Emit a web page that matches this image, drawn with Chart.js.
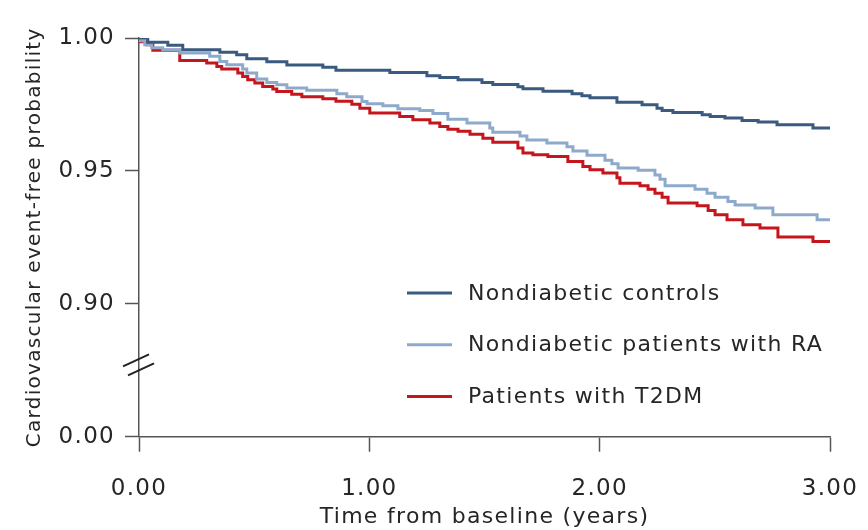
<!DOCTYPE html>
<html>
<head>
<meta charset="utf-8">
<title>Cardiovascular event-free probability</title>
<script src="https://cdn.jsdelivr.net/npm/chart.js@4.4.1/dist/chart.umd.min.js"></script>
<style>
    html, body { margin: 0; padding: 0; background: #ffffff; }
    canvas { display: block; }
</style>
</head>
<body>
<canvas id="kmChart" width="868" height="530"></canvas>
<script>
// Kaplan-Meier curves: time (years) of each step and the probability after it
const seriesLabels = ['Nondiabetic controls', 'Nondiabetic patients with RA', 'Patients with T2DM'];

const controlsTime = [0, 0.038, 0.125, 0.190, 0.351, 0.424, 0.468, 0.555, 0.642, 0.798, 0.855,
    1.089, 1.250, 1.306, 1.385, 1.489, 1.536, 1.645, 1.667, 1.754, 1.880, 1.923, 1.958,
    2.075, 2.184, 2.249, 2.271, 2.318, 2.445, 2.480, 2.544, 2.618, 2.688, 2.770, 2.926, 3.000];
const controlsSurv = [1.0000, 0.9984, 0.9973, 0.9956, 0.9946, 0.9937, 0.9922, 0.9911, 0.9898, 0.9890, 0.9879,
    0.9870, 0.9858, 0.9851, 0.9843, 0.9833, 0.9825, 0.9817, 0.9809, 0.9800, 0.9790, 0.9783, 0.9775,
    0.9758, 0.9749, 0.9736, 0.9727, 0.9720, 0.9711, 0.9705, 0.9699, 0.9690, 0.9684, 0.9674, 0.9661, 0.9661];

const raTime = [0, 0.025, 0.055, 0.103, 0.177, 0.307, 0.351, 0.381, 0.450, 0.468, 0.511, 0.555, 0.598,
    0.642, 0.728, 0.859, 0.902, 0.968, 0.990, 1.059, 1.124, 1.219, 1.276, 1.341, 1.424, 1.523,
    1.536, 1.654, 1.684, 1.771, 1.858, 1.884, 1.945, 2.023, 2.053, 2.080, 2.167, 2.240, 2.262,
    2.284, 2.414, 2.466, 2.501, 2.557, 2.588, 2.675, 2.752, 2.944, 3.000];
const raSurv = [0.9990, 0.9975, 0.9963, 0.9956, 0.9944, 0.9931, 0.9912, 0.9899, 0.9883, 0.9868, 0.9846, 0.9833, 0.9824,
    0.9812, 0.9803, 0.9790, 0.9779, 0.9761, 0.9753, 0.9745, 0.9734, 0.9727, 0.9716, 0.9694, 0.9680, 0.9661,
    0.9645, 0.9631, 0.9616, 0.9605, 0.9591, 0.9575, 0.9559, 0.9540, 0.9527, 0.9511, 0.9502, 0.9485, 0.9469,
    0.9444, 0.9431, 0.9416, 0.9401, 0.9385, 0.9372, 0.9360, 0.9335, 0.9316, 0.9316];

const t2dmTime = [0, 0.033, 0.060, 0.177, 0.294, 0.338, 0.359, 0.429, 0.450, 0.472, 0.503, 0.537, 0.581,
    0.598, 0.663, 0.707, 0.798, 0.855, 0.924, 0.959, 1.002, 1.132, 1.189, 1.263, 1.306, 1.341,
    1.385, 1.437, 1.493, 1.536, 1.645, 1.667, 1.710, 1.775, 1.862, 1.927, 1.958, 2.014, 2.075,
    2.088, 2.175, 2.210, 2.240, 2.271, 2.297, 2.423, 2.471, 2.501, 2.553, 2.622, 2.696, 2.774,
    2.926, 3.000];
const t2dmSurv = [0.9986, 0.9975, 0.9954, 0.9915, 0.9906, 0.9893, 0.9883, 0.9868, 0.9855, 0.9843, 0.9831, 0.9818, 0.9808,
    0.9799, 0.9788, 0.9779, 0.9771, 0.9762, 0.9751, 0.9736, 0.9718, 0.9705, 0.9692, 0.9680, 0.9667, 0.9657,
    0.9649, 0.9638, 0.9623, 0.9608, 0.9586, 0.9567, 0.9561, 0.9554, 0.9535, 0.9517, 0.9504, 0.9492, 0.9474,
    0.9454, 0.9444, 0.9431, 0.9416, 0.9401, 0.9379, 0.9369, 0.9351, 0.9335, 0.9316, 0.9297, 0.9285, 0.9251,
    0.9234, 0.9234];

const xTicks = [0, 1, 2, 3];
const yTicks = [0.90, 0.95, 1.00];
const yBreakLabel = '0.00';

// the axis is broken below 0.90; the 0.00 tick sits one step further down
const axisFloor = 0.85;
const textColor = '#262626';
const axisColor = '#555555';
const fontFamily = "'DejaVu Sans', sans-serif";
const spacing = '1.3px';

const toPoints = (times, values) => times.map((t, i) => ({ x: t, y: values[i] }));

function curve(label, times, values, color) {
    return {
        label: label,
        data: toPoints(times, values),
        borderColor: color,
        backgroundColor: color,
        borderWidth: 3,
        stepped: 'before',
        pointRadius: 0,
        fill: false
    };
}

// letter spacing for all canvas text
const spacingPlugin = {
    id: 'spacing',
    beforeLayout(chart) { chart.ctx.letterSpacing = spacing; },
    beforeDraw(chart) { chart.ctx.letterSpacing = spacing; }
};

// two slashes across the y axis
const axisBreakPlugin = {
    id: 'axisBreak',
    afterDraw(chart) {
        const { ctx, chartArea } = chart;
        const y = chart.scales.y;
        const cy = y.getPixelForValue(0.877);
        const x0 = chartArea.left;
        ctx.save();
        ctx.strokeStyle = '#222222';
        ctx.lineWidth = 2;
        [[-3, -4.5], [2, 4.5]].forEach(([dx, dy]) => {
            ctx.beginPath();
            ctx.moveTo(x0 + dx - 13, cy + dy + 6);
            ctx.lineTo(x0 + dx + 13, cy + dy - 6);
            ctx.stroke();
        });
        ctx.restore();
    }
};

// legend inside the plot, lower right
const insideLegendPlugin = {
    id: 'insideLegend',
    afterDraw(chart) {
        const { ctx, chartArea } = chart;
        ctx.save();
        ctx.letterSpacing = spacing;
        ctx.font = '22px ' + fontFamily;
        ctx.textBaseline = 'middle';
        ctx.textAlign = 'left';
        chart.data.datasets.forEach((ds, i) => {
            const ly = chartArea.top + 255 + i * 51.7;
            const lx = chartArea.left + 268;
            ctx.strokeStyle = ds.borderColor;
            ctx.lineWidth = 3;
            ctx.beginPath();
            ctx.moveTo(lx, ly);
            ctx.lineTo(lx + 45, ly);
            ctx.stroke();
            ctx.fillStyle = textColor;
            ctx.fillText(ds.label, lx + 61, ly + 1);
        });
        ctx.restore();
    }
};

const ctx = document.getElementById('kmChart');

new Chart(ctx, {
    type: 'line',
    data: {
        datasets: [
            curve(seriesLabels[0], controlsTime, controlsSurv, '#3b5a7f'),
            curve(seriesLabels[1], raTime, raSurv, '#8eaacb'),
            curve(seriesLabels[2], t2dmTime, t2dmSurv, '#c4161c')
        ]
    },
    options: {
        responsive: false,
        animation: false,
        layout: {
            padding: { top: 38, right: 38, bottom: 0, left: 0 }
        },
        plugins: {
            legend: { display: false },
            tooltip: { enabled: false }
        },
        scales: {
            x: {
                type: 'linear',
                min: 0,
                max: 3,
                afterBuildTicks: (scale) => { scale.ticks = xTicks.map(v => ({ value: v })); },
                afterFit: (scale) => {
                    scale.height = 93.3;
                    scale.paddingLeft = 0;
                    scale.paddingRight = 0;
                },
                border: { display: true, color: axisColor, width: 1.5 },
                grid: {
                    drawOnChartArea: false,
                    drawTicks: true,
                    tickLength: 15,
                    tickColor: axisColor,
                    tickWidth: 1.5
                },
                ticks: {
                    color: textColor,
                    padding: 24,
                    maxRotation: 0,
                    font: { family: fontFamily, size: 23 },
                    callback: (value) => Number(value).toFixed(2)
                },
                title: {
                    display: true,
                    text: 'Time from baseline (years)',
                    color: textColor,
                    font: { family: fontFamily, size: 22 },
                    padding: { top: 0, bottom: 0 }
                }
            },
            y: {
                type: 'linear',
                min: axisFloor,
                max: 1.0,
                afterBuildTicks: (scale) => {
                    scale.ticks = [axisFloor].concat(yTicks).map(v => ({ value: v }));
                },
                afterFit: (scale) => {
                    scale.width = 139;
                    scale.paddingTop = 0;
                    scale.paddingBottom = 0;
                },
                border: { display: true, color: axisColor, width: 1.5 },
                grid: {
                    drawOnChartArea: false,
                    drawTicks: true,
                    tickLength: 14,
                    tickColor: axisColor,
                    tickWidth: 1.5
                },
                ticks: {
                    color: textColor,
                    padding: 10,
                    font: { family: fontFamily, size: 23 },
                    callback: (value) => value === axisFloor ? yBreakLabel : Number(value).toFixed(2)
                },
                title: {
                    display: true,
                    text: 'Cardiovascular event-free probability',
                    color: textColor,
                    font: { family: fontFamily, size: 20 },
                    padding: { top: 23, bottom: 0 }
                }
            }
        }
    },
    plugins: [spacingPlugin, axisBreakPlugin, insideLegendPlugin]
});
</script>
</body>
</html>
